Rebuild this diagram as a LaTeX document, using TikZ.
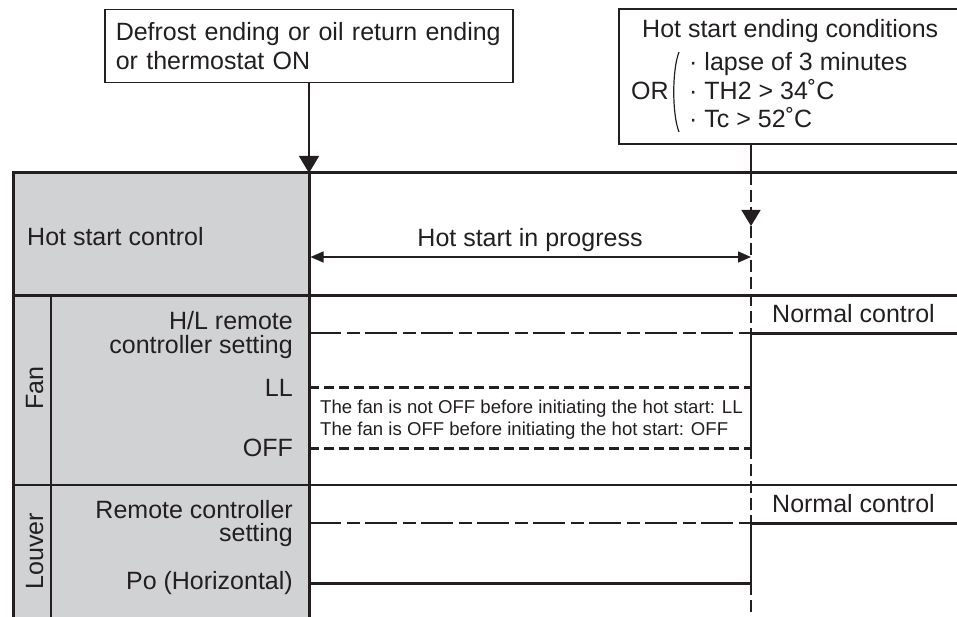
\documentclass[tikz,border=0pt]{standalone}
\usepackage{fontspec}
\setmainfont{Liberation Sans}
\usetikzlibrary{arrows.meta}
\definecolor{ink}{RGB}{35,31,32}
\definecolor{panel}{RGB}{209,210,212}
\begin{document}
\begin{tikzpicture}[x=1pt,y=-1pt,
  big/.style={font=\fontsize{25}{29}\selectfont, text=ink, inner sep=0pt},
  small/.style={font=\fontsize{18.6}{22}\selectfont, text=ink, inner sep=0pt},
  rule/.style={draw=ink, line width=3pt},
  thinl/.style={draw=ink, line width=1.5pt},
  dashthin/.style={thinl, dash pattern=on 32pt off 5.5pt on 13pt off 5.5pt},
  dashthick/.style={draw=ink, line width=3pt, dash pattern=on 10pt off 5pt},
  dashv/.style={thinl, dash pattern=on 12pt off 5pt},
  tipA/.style={-{Triangle[width=20pt,length=17pt]}},
  tipB/.style={{Triangle[width=11pt,length=13pt]}-{Triangle[width=11pt,length=13pt]}},
  ]
\useasboundingbox (0,0) rectangle (957,617);

% gray panel
\fill[panel] (13,173) rectangle (309,617);

% key coordinates
\coordinate (tl) at (309,173);
\coordinate (top2) at (751,173);
\coordinate (tip2) at (751,226);
\coordinate (bot2) at (751,617);
\coordinate (b2nw) at (619,9);
\coordinate (b2sw) at (619,144);
\coordinate (b2ne) at (958,9);
\coordinate (b2se) at (958,144);
\coordinate (b2s) at (751,144);

% box 1
\node[big, draw=ink, line width=1.5pt, anchor=north west, text width=386pt,
      align=left, inner xsep=11pt, minimum height=73pt] (b1) at (104,9)
      {Defrost ending or oil return ending\\or thermostat ON};
\draw[thinl, tipA] (b1.south -| tl) -- (tl);

% box 2
\draw[thinl] (b2ne) -- (b2nw) -- (b2sw) -- (b2se);
\node[big, anchor=base west] (hsec) at (642,38) {Hot start ending conditions};
\node[big, anchor=base west] (orl) at (631,100) {OR};
\node[big, anchor=base west] (c1) at (689,71) {· lapse of 3 minutes};
\node[big, anchor=base west] (c2) at (689,100) {· TH2 > 34˚C};
\node[big, anchor=base west] (c3) at (689,128) {· Tc > 52˚C};
\draw[ink, line width=1.2pt] (679,52) .. controls (672,70) and (672,114) .. (679,132);
\draw[thinl] (b2s) -- (top2);
\draw[dashv, -{Triangle[width=19pt,length=16pt]}] (top2) -- (tip2);
\draw[dashv] (tip2) -- (bot2);

% table rules
\draw[rule] (13,173) -- (957,173);
\draw[rule] (13,295) -- (957,295);
\draw[rule, line width=2.5pt] (13,485) -- (957,485);
\draw[rule] (13,171.5) -- (13,617);
\draw[rule] (309,171.5) -- (309,617);
\draw[rule, line width=2.5pt] (51,295) -- (51,617);

% hot start row
\node[big, anchor=base west] (hsc) at (27,246) {Hot start control};
\node[big, anchor=base] (hsip) at (530,247) {Hot start in progress};
\draw[thinl, tipB] (310.5,257) -- (751,257);

% fan row
\node[big, anchor=base, rotate=90] (fan) at (43,388) {Fan};
\node[big, anchor=base east] (hl1) at (293,329) {H/L remote};
\node[big, anchor=base east] (hl2) at (293,353) {controller setting};
\node[big, anchor=base east] (ll) at (293,396) {LL};
\node[big, anchor=base east] (off) at (293,456) {OFF};
\draw[dashthin] (309,333) -- (751,333);
\draw[rule] (751,333) -- (957,333);
\node[big, anchor=base west] (nc1) at (772,322) {Normal control};
\draw[dashthick] (309,387) -- (751,387);
\draw[dashthick] (309,448) -- (751,448);
\draw[thinl] (751,333) -- (751,448);
\node[small, anchor=base west] (n1) at (320,413) {The fan is not OFF before initiating the hot start: LL};
\node[small, anchor=base west] (n2) at (320,435) {The fan is OFF before initiating the hot start: OFF};

% louver row
\node[big, anchor=base, rotate=90] (louver) at (43,551) {Louver};
\node[big, anchor=base east] (rc1) at (293,518) {Remote controller};
\node[big, anchor=base east] (rc2) at (293,541) {setting};
\node[big, anchor=base east] (po) at (293,589) {Po (Horizontal)};
\draw[dashthin] (309,523) -- (751,523);
\draw[rule] (751,523) -- (957,523);
\node[big, anchor=base west] (nc2) at (772,512) {Normal control};
\draw[rule] (309,583) -- (751,583);
\draw[thinl] (751,523) -- (751,583);
\end{tikzpicture}
\end{document}
